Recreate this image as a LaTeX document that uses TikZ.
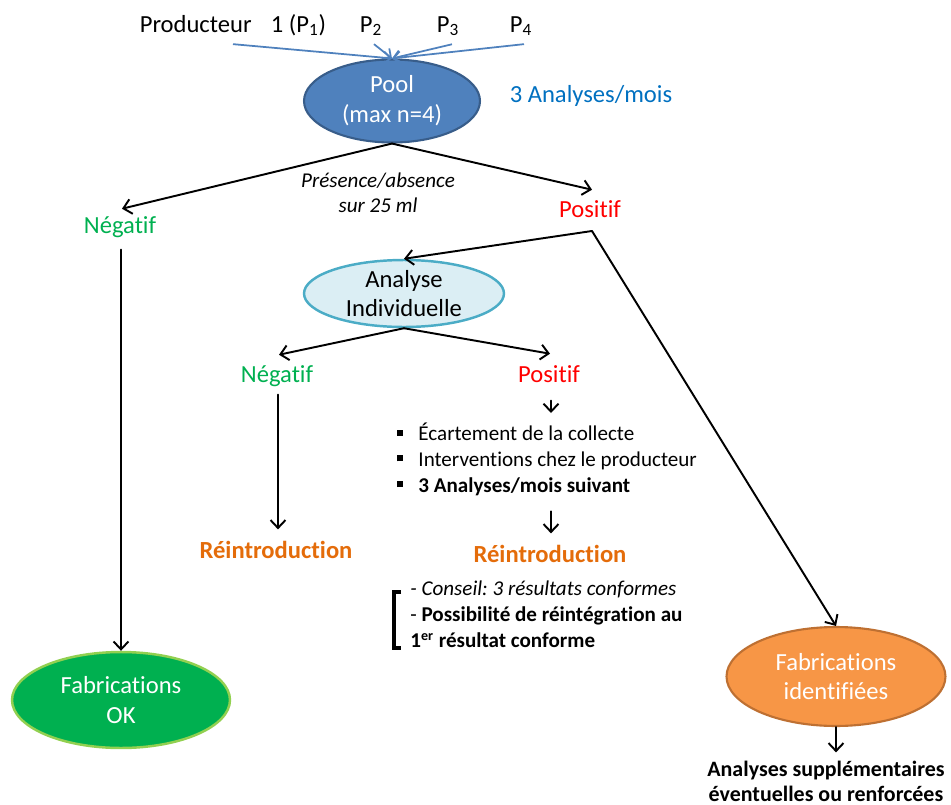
\documentclass[tikz,border=0pt]{standalone}
\usepackage{fontspec}
\setmainfont{Carlito}[Ligatures=NoCommon]
\usetikzlibrary{shapes.geometric,arrows.meta,calc}
\definecolor{lineblue}{RGB}{79,129,189}
\definecolor{poolfill}{RGB}{79,129,189}
\definecolor{poolborder}{RGB}{56,93,138}
\definecolor{analblue}{RGB}{0,112,192}
\definecolor{anafill}{RGB}{219,238,244}
\definecolor{anaborder}{RGB}{75,172,198}
\definecolor{vert}{RGB}{0,176,80}
\definecolor{rouge}{RGB}{255,0,0}
\definecolor{orangeT}{RGB}{228,108,10}
\definecolor{fabgreen}{RGB}{0,176,80}
\definecolor{fabgreenb}{RGB}{146,208,80}
\definecolor{fabor}{RGB}{247,150,70}
\definecolor{faborb}{RGB}{190,112,50}
\newcommand\bulsq{\rule[3.1pt]{3.4pt}{3.4pt}\hspace{8.6pt}}
\frenchspacing
\begin{document}
\begin{tikzpicture}[x=0.02cm,y=-0.02cm,
  txt/.style={inner sep=0pt, font=\fontsize{14}{17}\selectfont},
  ell/.style={ellipse, inner sep=0pt, align=center, font=\fontsize{14}{17}\selectfont, text=white},
  arr/.style={draw=black, line width=1.1pt, line cap=round, -{Straight Barb[length=4.5pt,width=8.5pt]}},
  barr/.style={draw=lineblue, line width=1pt, -{Straight Barb[length=4pt,width=7pt]}},
  reint/.style={txt, font=\bfseries\fontsize{14}{17}\selectfont, text=orangeT, anchor=base}
]
\useasboundingbox (0,0) rectangle (951,805);

% top producers
\node[txt, anchor=base] (p1) at (233,32) {Producteur\hspace{11pt}1 (P\textsubscript{1})};
\node[txt, anchor=base] (p2) at (371,32) {P\textsubscript{2}};
\node[txt, anchor=base] (p3) at (448,32) {P\textsubscript{3}};
\node[txt, anchor=base] (p4) at (521,32) {P\textsubscript{4}};

\node[ell, fill=poolfill, draw=poolborder, line width=1.2pt, minimum width=3.52cm, minimum height=1.66cm] (pool) at (392,101) {Pool\\(max n=4)};
\node[txt, text=analblue, anchor=base] (freq) at (591,102) {3 Analyses/mois};

\node[txt, font=\itshape\fontsize{12}{14.2}\selectfont, align=center] (pa) at (378,193) {Présence/absence\\sur 25 ml};

\node[txt, text=vert, anchor=base] (neg1) at (120,233) {Négatif};
\node[txt, text=rouge, anchor=base] (pos1) at (590,217) {Positif};
\coordinate (pc) at (592,231);

\node[ell, fill=anafill, draw=anaborder, line width=1.4pt, text=black, minimum width=4cm, minimum height=1.34cm] (ana) at (404,293.5) {Analyse\\Individuelle};

\node[txt, text=vert, anchor=base] (neg2) at (277,382) {Négatif};
\node[txt, text=rouge, anchor=base] (pos2) at (549,382) {Positif};

\node[txt, font=\fontsize{12}{14.7}\selectfont, align=left, anchor=north west] (bul) at (397,423)
  {\bulsq Écartement de la collecte\\\bulsq Interventions chez le producteur\\\bulsq\textbf{3 Analyses/mois suivant}};

\node[reint] (re1) at (276,558) {Réintroduction};
\node[reint] (re2) at (550,562) {Réintroduction};

\node[txt, font=\fontsize{12}{14.7}\selectfont, align=left, anchor=north west] (cons) at (410,581)
  {\textit{- Conseil: 3 résultats conformes}\\- \textbf{Possibilité de réintégration au}\\\textbf{1\textsuperscript{er} résultat conforme}};

\node[ell, fill=fabgreen, draw=fabgreenb, line width=1.4pt, minimum width=4.36cm, minimum height=1.92cm] (fok) at (121,700) {Fabrications\\OK};
\node[ell, fill=fabor, draw=faborb, line width=1.2pt, minimum width=4.38cm, minimum height=1.98cm] (fid) at (836,676.5) {Fabrications\\identifiées};
\node[txt, font=\bfseries\fontsize{12.5}{14.2}\selectfont, align=center] (supp) at (826,781) {Analyses supplémentaires\\éventuelles ou renforcées};

% connectors
\draw[barr] ($(p1.south)+(0,8)$) -- (pool.north);
\draw[barr] ($(p2.south)+(3,8)$) -- (pool.north);
\draw[barr] ($(p3.south)+(4,8)$) -- (pool.north);
\draw[barr] ($(p4.south)+(3,8)$) -- (pool.north);

\draw[arr] (pool.south) -- ($(neg1.north)+(2,-7)$);
\draw[arr] (pool.south) -- ($(pos1.north)+(2,-10)$);
\draw[arr] (pc) -- (ana.north);
\draw[arr] (pc) -- (fid.north);
\draw[arr] ($(neg1.south)+(1,12)$) -- (fok.north);
\draw[arr] (ana.south) -- ($(neg2.north)+(2,-10)$);
\draw[arr] (ana.south) -- ($(pos2.north)+(1,-11)$);
\draw[arr] ($(neg2.south)+(1,8)$) -- ($(re1.north)+(2,-11)$);
\draw[arr] ($(pos2.south)+(2,18)$) -- ($(pos2.south |- bul.north)+(2,-10)$);
\draw[arr] ($(pos2.south |- bul.south)+(2,15)$) -- ($(re2.north)+(1,-11)$);
\draw[arr] (fid.south) -- ($(fid.south |- supp.north)+(0,-8)$);

\draw[line width=1.8pt] (401,592) -- (394,592) -- (394,648) -- (401,648);
\end{tikzpicture}
\end{document}
